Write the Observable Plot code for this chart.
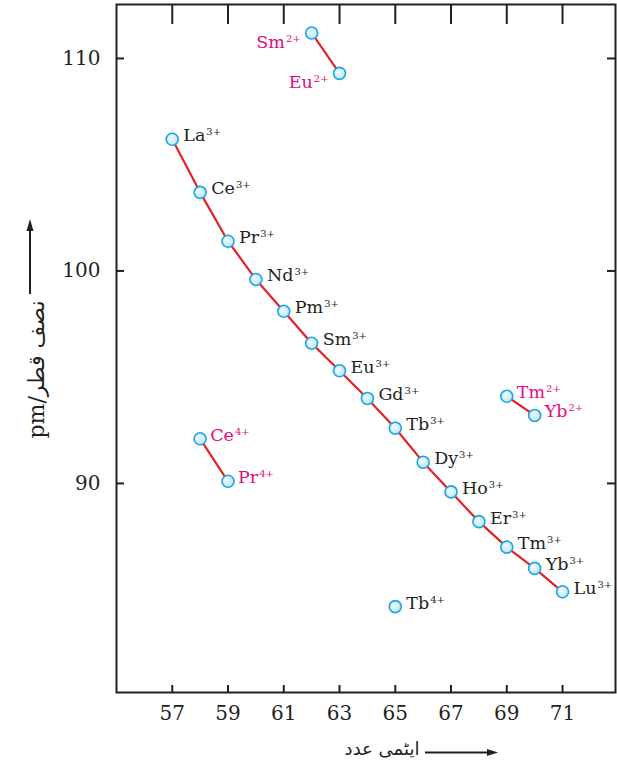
<!DOCTYPE html>
<html>
<head>
<meta charset="utf-8">
<script src="https://cdn.jsdelivr.net/npm/d3@7"></script>
<script src="https://cdn.jsdelivr.net/npm/@observablehq/plot@0.6"></script>
<style>
  html, body { margin: 0; padding: 0; background: #fff; }
  #chart svg { display: block; }
</style>
</head>
<body>
<div id="chart"></div>
<script>
// ---- data ----
const ln3Symbols = ["La","Ce","Pr","Nd","Pm","Sm","Eu","Gd","Tb","Dy","Ho","Er","Tm","Yb","Lu"];
const ln3Z       = [57,58,59,60,61,62,63,64,65,66,67,68,69,70,71];
const ln3Radius  = [106.2,103.7,101.4,99.6,98.1,96.6,95.3,94.0,92.6,91.0,89.6,88.2,87.0,86.0,84.9];

const ln2Symbols = ["Sm","Eu","Tm","Yb"];
const ln2Z       = [62,63,69,70];
const ln2Radius  = [111.2,109.3,94.1,93.2];

const ln4Symbols = ["Ce","Pr","Tb"];
const ln4Z       = [58,59,65];
const ln4Radius  = [92.1,90.1,84.2];

const xTicks = [57,59,61,63,65,67,69,71];
const yTicks = [90,100,110];

const xLabel = "ایٹمی عدد";
const yLabel = "pm/نصف قطر";

// ions labelled on the left of their point, and ions labelled in magenta
const leftLabelled = ["Sm2+","Eu2+"];
const magentaIons  = ["Sm2+","Eu2+","Tm2+","Yb2+","Ce4+","Pr4+"];

// ---- build rows ----
function series(symbols, zs, radii, charge) {
  let seg = 0;
  return symbols.map((s, i) => {
    if (i > 0 && zs[i] - zs[i - 1] !== 1) seg++;
    return {symbol: s, charge, z: zs[i], r: radii[i], seg: charge + "-" + seg, id: s + charge};
  });
}
const rows = [
  ...series(ln3Symbols, ln3Z, ln3Radius, "3+"),
  ...series(ln2Symbols, ln2Z, ln2Radius, "2+"),
  ...series(ln4Symbols, ln4Z, ln4Radius, "4+")
];

const serif = "'DejaVu Serif', 'DejaVu Sans', serif";
const MAGENTA = "#e4097f";
const INK = "#231f20";

const labelText = d => d.symbol + "^" + d.charge;
const rightBlack   = rows.filter(d => !leftLabelled.includes(d.id) && !magentaIons.includes(d.id));
const rightMagenta = rows.filter(d => !leftLabelled.includes(d.id) && magentaIons.includes(d.id));
const leftMagenta  = rows.filter(d => leftLabelled.includes(d.id));

const chart = Plot.plot({
  width: 617,
  height: 774,
  marginLeft: 116,
  marginRight: 2,
  marginTop: 4,
  marginBottom: 82,
  style: {fontFamily: serif, color: INK, background: "#fff"},
  x: {domain: [55, 72.9], label: null},
  y: {domain: [80.16, 112.54], label: null},
  marks: [
    Plot.frame({stroke: INK, strokeWidth: 2}),
    Plot.axisX(xTicks, {anchor: "bottom", tickSize: -7, tickPadding: 20, fontSize: 20, strokeWidth: 2, label: null}),
    Plot.axisX(xTicks, {anchor: "top", tickSize: -19, tickFormat: () => "", strokeWidth: 2, label: null}),
    Plot.axisY(yTicks, {anchor: "left", tickSize: -8, tickPadding: 24, fontSize: 20, strokeWidth: 2, label: null}),
    Plot.axisY(yTicks, {anchor: "right", tickSize: -9, tickFormat: () => "", strokeWidth: 2, label: null}),
    Plot.line(rows, {x: "z", y: "r", z: "seg", stroke: "#e42226", strokeWidth: 2.2}),
    Plot.dot(rows, {x: "z", y: "r", r: 6, fill: "url(#ionGrad)", stroke: "#1ea6e0", strokeWidth: 1.6}),
    Plot.text(rightBlack, {x: "z", y: "r", text: labelText, textAnchor: "start", lineAnchor: "bottom",
      dx: 11, dy: 2, fontSize: 17.5, fill: INK}),
    Plot.text(rightMagenta, {x: "z", y: "r", text: labelText, textAnchor: "start", lineAnchor: "bottom",
      dx: 10, dy: 2, fontSize: 17.5, fill: MAGENTA}),
    Plot.text(leftMagenta, {x: "z", y: "r", text: labelText, textAnchor: "end", lineAnchor: "bottom",
      dx: -11, dy: 15, fontSize: 17.5, fill: MAGENTA}),
    Plot.text([xLabel], {frameAnchor: "bottom", text: d => d, dx: 16, dy: 57, fontSize: 18,
      fill: INK, lineAnchor: "middle", textAnchor: "middle", fontFamily: "'DejaVu Sans', sans-serif"}),
    Plot.text([yLabel], {frameAnchor: "left", text: d => d, rotate: -90, dx: -80, dy: 21, fontSize: 22,
      fill: INK, lineAnchor: "middle", textAnchor: "middle"})
  ]
});

const svgNode = chart.tagName.toLowerCase() === "svg" ? chart : chart.querySelector("svg");
const svg = d3.select(svgNode);

// superscript charges
svg.selectAll("text").each(function () {
  if (this.querySelector("tspan")) return;
  const s = this.textContent;
  if (!s.includes("^")) return;
  const [base, sup] = s.split("^");
  const t = d3.select(this);
  t.text(null);
  t.append("tspan").text(base);
  t.append("tspan").attr("font-size", 10).attr("dx", 1).attr("dy", -6).text(sup);
});

// gradient for the markers
svg.insert("defs", ":first-child").html(
  '<radialGradient id="ionGrad" cx="0.4" cy="0.4" r="0.65">' +
  '<stop offset="0" stop-color="#f2fbff"/><stop offset="1" stop-color="#b9e3f6"/></radialGradient>'
);

// axis-title arrows
const arrows = svg.append("g").attr("fill", INK).attr("stroke", INK);
arrows.append("line").attr("x1", 30).attr("y1", 294).attr("x2", 30).attr("y2", 228).attr("stroke-width", 2);
arrows.append("path").attr("stroke", "none").attr("d", "M30,219L26.5,231L33.5,231Z");
arrows.append("line").attr("x1", 425).attr("y1", 752.5).attr("x2", 489).attr("y2", 752.5).attr("stroke-width", 2);
arrows.append("path").attr("stroke", "none").attr("d", "M498,752.5L487,749L487,756Z");

document.getElementById("chart").appendChild(chart);
</script>
</body>
</html>
